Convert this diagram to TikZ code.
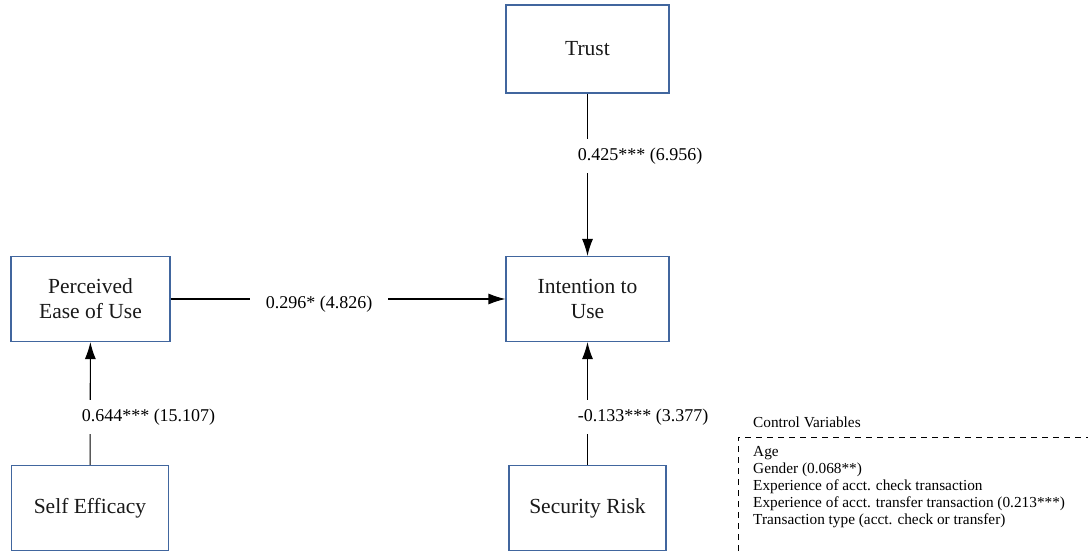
\documentclass[tikz,border=0pt]{standalone}
\usepackage{fontspec}
\setmainfont{Liberation Serif}
\usetikzlibrary{positioning,arrows.meta}
\definecolor{boxblue}{RGB}{65,102,158}
\tikzset{
  construct/.style={draw=boxblue,line width=1.1pt,align=center,
    font=\rmfamily\fontsize{21.5}{25}\selectfont,text=black!90},
  effect/.style={line width=1.1pt,-{Latex[length=17pt,width=11pt]}},
  coef/.style={fill=white,font=\rmfamily\fontsize{18}{20}\selectfont,inner xsep=12pt,inner ysep=9pt},
  ctrl/.style={font=\rmfamily\fontsize{15.3}{17}\selectfont,anchor=west,align=left,inner sep=0pt}
}
\begin{document}
\begin{tikzpicture}[x=1pt,y=-1pt]
  \useasboundingbox (0,0) rectangle (1088,553);
  % constructs
  \node[construct,minimum width=163pt,minimum height=88pt] (trust) at (587.5,49) {Trust};
  \node[construct,minimum width=159pt,minimum height=85pt] (peou) at (90.5,299) {Perceived\\Ease of Use};
  \node[construct,minimum width=163pt,minimum height=85pt] (itu) at (587.5,299) {Intention to\\Use};
  \node[construct,minimum width=157pt,minimum height=85pt] (se) at (90,508) {Self Efficacy};
  \node[construct,minimum width=157pt,minimum height=85pt] (risk) at (587.5,508) {Security Risk};
  % paths
  \draw[effect] (trust) -- (itu);
  \draw[effect] (peou) -- (itu);
  \draw[effect] (se) -- (peou);
  \draw[effect] (risk) -- (itu);
  % coefficients
  \node[coef] (c1) at (640,156) {0.425*** (6.956)};
  \node[coef,inner xsep=16pt] (c2) at (319,304) {0.296* (4.826)};
  \node[coef] (c3) at (148.5,417) {0.644*** (15.107)};
  \node[coef] (c4) at (643,417) {-0.133*** (3.377)};
  % control variables
  \node[ctrl] (cvtitle) at (753,422) {Control Variables};
  \draw[dashed,line width=0.9pt,dash pattern=on 6pt off 5pt] (738,562) -- (738,437) -- (1095,437);
  \node[ctrl,anchor=north west] (cvlist) at (753,446) {Age\\Gender (0.068**)\\Experience of acct. check transaction\\Experience of acct. transfer transaction (0.213***)\\Transaction type (acct. check or transfer)};
\end{tikzpicture}
\end{document}
